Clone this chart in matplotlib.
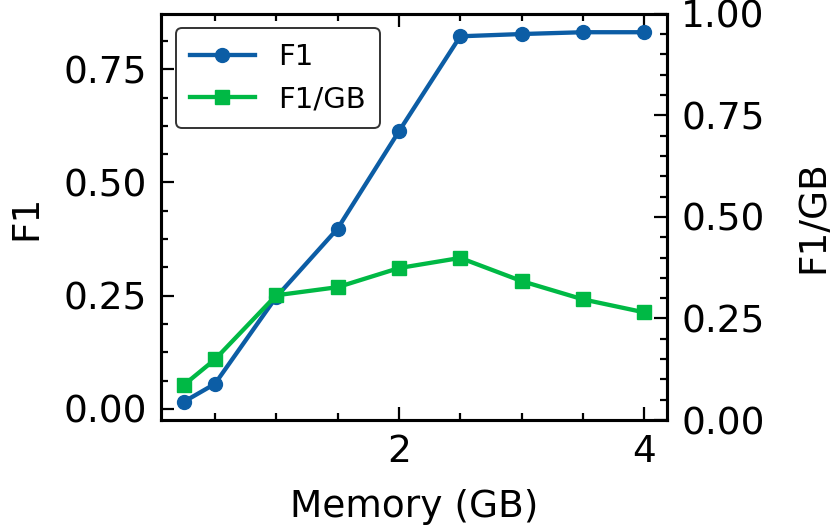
import matplotlib
matplotlib.use("Agg")
import matplotlib.pyplot as plt
from matplotlib.ticker import AutoMinorLocator, MultipleLocator

memory_gb = [0.25, 0.5, 1.0, 1.5, 2.0, 2.5, 3.0, 3.5, 4.0]
f1 = [0.016, 0.055, 0.247, 0.398, 0.613, 0.823, 0.828, 0.832, 0.832]
f1_per_gb = [0.087, 0.149, 0.307, 0.327, 0.374, 0.399, 0.342, 0.297, 0.265]

BLUE = "#0C5DA5"
GREEN = "#00B945"

plt.rcParams["font.family"] = ["DejaVu Sans"]
plt.rcParams["font.size"] = 27

fig, ax1 = plt.subplots(figsize=(8.31, 5.29), dpi=100)
l1, = ax1.plot(memory_gb, f1, color=BLUE, marker="o", lw=3.1, ms=10, label="F1")
ax1.set_xlabel("Memory (GB)", labelpad=14)
ax1.set_ylabel("F1", labelpad=14)
ax1.xaxis.set_major_locator(MultipleLocator(2))
ax1.xaxis.set_minor_locator(MultipleLocator(0.5))
ax1.yaxis.set_major_locator(MultipleLocator(0.25))
ax1.yaxis.set_minor_locator(AutoMinorLocator(4))
ax1.tick_params(which="both", direction="in", top=True, width=1.6, pad=10)
ax1.tick_params(which="major", length=9.5)
ax1.tick_params(which="minor", length=5)

ax2 = ax1.twinx()
l2, = ax2.plot(memory_gb, f1_per_gb, color=GREEN, marker="s", lw=3.1, ms=10, label="F1/GB")
ax2.set_ylim(0, 1)
ax2.set_ylabel("F1/GB", labelpad=22)
ax2.yaxis.set_major_locator(MultipleLocator(0.25))
ax2.yaxis.set_minor_locator(AutoMinorLocator(5))
ax2.tick_params(which="both", direction="in", width=1.6, pad=10)
ax2.tick_params(which="major", length=9.5)
ax2.tick_params(which="minor", length=5)

for ax in (ax1, ax2):
    for s in ax.spines.values():
        s.set_linewidth(2.2)

leg = ax1.legend(handles=[l1, l2], loc="upper left", fontsize=21,
                 framealpha=1, edgecolor="#333333", fancybox=True,
                 borderpad=0.5, handlelength=2.2)
leg.get_frame().set_linewidth(1.4)

fig.subplots_adjust(left=0.194, right=0.803, top=0.974, bottom=0.206)
fig.savefig("out.png", dpi=100)
plt.close(fig)
